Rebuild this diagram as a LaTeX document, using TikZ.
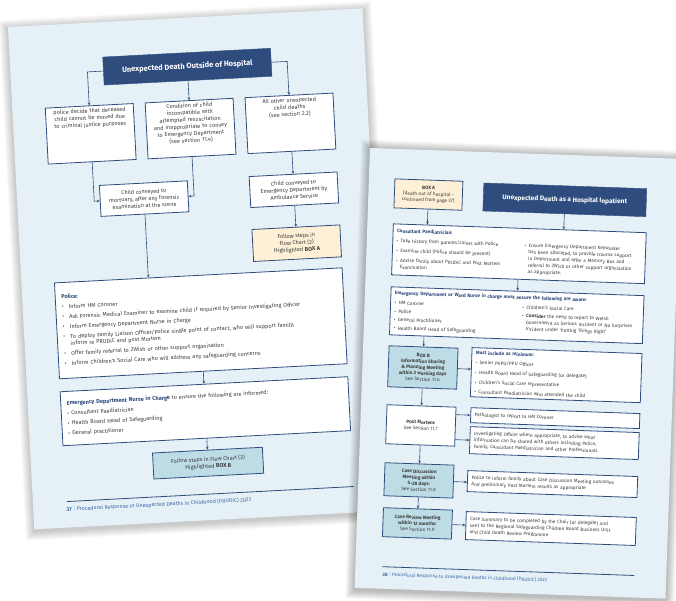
\documentclass[tikz,border=0pt]{standalone}
\usepackage{fontspec}
\setmainfont{Fira Sans}
\usepackage{xcolor}
\usepackage{tikz}
\usetikzlibrary{arrows.meta, positioning, calc}

\definecolor{pagebg}{HTML}{E6F1F7}
\definecolor{navy}{HTML}{2E4C7D}
\definecolor{boxtext}{HTML}{404040}
\definecolor{cream}{HTML}{FDF0D6}
\definecolor{paleteal}{HTML}{BDDCE5}
\definecolor{footblue}{HTML}{3F6AA6}
\definecolor{barblue}{HTML}{6CB4DA}

\newcommand{\bul}[1]{\par\hangindent=7pt\hangafter=1\noindent\makebox[7pt][l]{\textbullet}#1}
\newcommand{\sbul}[1]{\par\hangindent=4pt\hangafter=1\noindent\makebox[4pt][l]{\textbullet}#1}
\newcommand{\heading}[1]{\textcolor{navy}{\textbf{#1}}}

\begin{document}
\begin{tikzpicture}[
    x=1pt, y=1pt,
    page/.style={fill=pagebg},
    titlebox/.style={rectangle, fill=navy, draw=navy, text=white, font=\bfseries\fontsize{7.5}{8.5}\selectfont, inner sep=0pt},
    flowbox/.style={rectangle, draw=navy, line width=0.8pt, fill=white, text=boxtext, align=center, inner sep=3pt, font=\fontsize{5.6}{7}\selectfont},
    topbox/.style={flowbox, text height=4pt, text depth=46pt},
    listbox/.style={rectangle, draw=navy, line width=0.8pt, fill=white, text=boxtext, align=left, inner xsep=6pt, inner ysep=3pt, font=\fontsize{5.6}{6.6}\selectfont, execute at begin node={\setlength{\parskip}{3.4pt}}},
    rbox/.style={flowbox, font=\fontsize{4.8}{6}\selectfont},
    rlist/.style={listbox, inner xsep=4pt, font=\fontsize{4.8}{6.6}\selectfont, execute at begin node={\setlength{\parskip}{3.2pt}}},
    footer/.style={text=footblue, font=\fontsize{5.4}{6}\selectfont, inner sep=0pt},
    link/.style={draw=navy, line width=0.6pt, -{Stealth[length=3pt, width=2.6pt]}}
]
    \useasboundingbox (0,0) rectangle (676,600);
    \fill[white] (0,0) rectangle (676,600);

    % ---- page 37 ----
    \begin{scope}[shift={(8,573)}, rotate=3, y=-1pt, transform shape]
        % sheet and shadow
        \foreach \s in {1,...,9}
            \fill[black, opacity=0.025] (-\s,-\s+2) rectangle (355+\s,503+\s+2);
        \fill[page] (0,0) rectangle (355,503);

        % Title
        \node[titlebox, minimum width=168pt, minimum height=28pt] (outside) at (177,49) {Unexpected Death Outside of Hospital};

        % First row
        \node[topbox, text width=82pt, minimum width=88pt, minimum height=56pt] (cjp) at (77,111) {police decide that deceased\\child cannot be moved due\\to criminal justice purposes};
        \node[topbox, text width=82pt, minimum width=88pt, minimum height=56pt] (incompat) at (177,111) {Condition of child\\incompatible with\\attempted resuscitation\\and inappropriate to convey\\to Emergency Department\\(see section 11.4)};
        \node[topbox, text width=82pt, minimum width=88pt, minimum height=56pt] (otherdeaths) at (277,111) {All other unexpected\\child deaths\\(see section 2.2)};

        % Second row
        \node[flowbox, minimum width=88pt, minimum height=31pt] (mortuary) at (127,178.5) {Child conveyed to\\mortuary, after any forensic\\examination at the scene};
        \node[flowbox, minimum width=88pt, minimum height=31pt] (ambulance) at (277,177.5) {Child conveyed to\\Emergency Department by\\Ambulance Service};
        \node[flowbox, fill=cream, minimum width=88pt, minimum height=32pt] (toboxa) at (277,231) {Follow steps in\\Flow Chart (2)\\Highlighted \textbf{BOX A}};

        % Lists
        \node[listbox, text width=276pt, minimum width=288pt, minimum height=96pt] (police) at (177,306) {%
            \heading{Police:}
            \bul{Inform HM Coroner}
            \bul{Ask Forensic Medical Examiner to examine child if required by Senior Investigating Officer}
            \bul{Inform Emergency Department Nurse in Charge}
            \bul{To deploy Family Liaison Officer/Police single point of contact, who will support family,\newline inform re PRUDiC and post Mortem}
            \bul{Offer family referral to 2Wish or other support organisation}
            \bul{Inform Children’s Social Care who will address any safeguarding concerns}};
        \node[listbox, text width=276pt, minimum width=288pt, minimum height=54pt] (ednurse) at (177,394) {%
            \heading{Emergency Department Nurse in Charge} to ensure the following are informed:
            \sbul{Consultant Paediatrician}
            \sbul{Health Board Head of Safeguarding}
            \sbul{General practitioner}};
        \node[flowbox, fill=paleteal, minimum width=110pt, minimum height=26pt] (toboxb) at (177,446) {Follow steps in Flow Chart (2)\\Highlighted \textbf{BOX B}};

        % Arrows
        \draw[link] (outside.west) -- ($(cjp.north)!(outside.west)!(cjp.south)$) -- (cjp.north);
        \draw[link] (outside.south) -- (incompat.north);
        \draw[link] (outside.east) -- ($(otherdeaths.north)!(outside.east)!(otherdeaths.south)$) -- (otherdeaths.north);
        \draw[link] (cjp.south) -- ($(cjp.south)!(mortuary.west)!(cjp.north)$) -- (mortuary.west);
        \draw[link] (incompat.south) -- ($(incompat.south)!(mortuary.east)!(incompat.north)$) -- (mortuary.east);
        \draw[link] (otherdeaths.south) -- (ambulance.north);
        \draw[link] (ambulance.south) -- (toboxa.north);
        \draw[link] (mortuary.south) -- ($(police.north west)!(mortuary.south)!(police.north east)$);
        \draw[link] (police.south) -- (ednurse.north);
        \draw[link] (ednurse.south) -- (toboxb.north);

        % Footer
        \draw[navy, line width=0.8pt] (34,477) -- (321,477);
        \node[footer, anchor=west] (foot37) at (33,485) {\textbf{37} \textcolor{barblue}{|} Procedural Response to Unexpected Deaths in Childhood (PRUDiC) 2023};
    \end{scope}

    % ---- page 38 ----
    \begin{scope}[shift={(370,452)}, rotate=-2, y=-1pt, transform shape]
        % sheet and shadow
        \foreach \s in {1,...,9}
            \fill[black, opacity=0.03] (-\s,-\s+1) rectangle (311+\s,440+\s+2);
        \fill[page] (0,0) rectangle (311,440);

        % Top row
        \node[rbox, fill=cream, minimum width=68pt, minimum height=29pt] (boxa) at (60,44.5) {\textbf{BOX A}\\(death out of hospital -\\continued from page 37)};
        \node[titlebox, font=\bfseries\fontsize{6.6}{7.5}\selectfont, minimum width=163pt, minimum height=28pt] (inpatient) at (196.5,45) {Unexpected Death as a Hospital Inpatient};

        % Wide boxes
        \node[rlist, text width=245pt, minimum width=253pt, minimum height=51pt] (consultant) at (152.5,100.5) {%
            \heading{Consultant Paediatrician:}\par
            \noindent\begin{minipage}[t]{128pt}\setlength{\parskip}{3.2pt}
                \sbul{Take history from parents/carers with Police}
                \sbul{Examine child (Police should be present)}
                \sbul{Advise family about PRUDiC and Post Mortem\newline Examination}
            \end{minipage}%
            \begin{minipage}[t]{117pt}
                \sbul{Ensure Emergency Department Keyworker\newline has been allocated, to provide trauma support\newline in Department and offer a Memory Box and\newline referral to 2Wish or other support organisation\newline as appropriate.}
            \end{minipage}};
        \node[rlist, text width=245pt, minimum width=253pt, minimum height=48pt] (wardnurse) at (152.5,162) {%
            \heading{Emergency Department or Ward Nurse in charge must ensure the following are aware:}\par
            \noindent\begin{minipage}[t]{128pt}\setlength{\parskip}{1.8pt}
                \sbul{HM Coroner}
                \sbul{Police}
                \sbul{General Practitioner}
                \sbul{Health Board Head of Safeguarding}
            \end{minipage}%
            \begin{minipage}[t]{117pt}\setlength{\parskip}{1.8pt}
                \sbul{Children’s Social Care}
                \sbul{\textbf{Consider} the need to report to Welsh\newline Government as Serious Incident or No Surprises\newline Incident under ‘Putting Things Right’}
            \end{minipage}};

        % Left column
        \node[rbox, fill=paleteal, minimum width=69pt, minimum height=41pt] (boxb) at (60.5,217.5) {\textbf{BOX B}\\\textbf{Information Sharing}\\\textbf{\& Planning Meeting}\\\textbf{within 2 working days}\\See Section 11.6};
        \node[rbox, minimum width=69pt, minimum height=39pt] (postmortem) at (60.5,275.5) {\textbf{Post Mortem:}\\See Section 11.7};
        \node[rbox, fill=paleteal, minimum width=69pt, minimum height=33pt] (casediscussion) at (60.5,330.5) {\textbf{Case Discussion}\\\textbf{Meeting within}\\\textbf{5-28 days:}\\See Section 11.8};
        \node[rbox, fill=paleteal, minimum width=69pt, minimum height=29pt] (casereview) at (60.5,373.5) {\textbf{Case Review Meeting}\\\textbf{within 12 months:}\\See Section 11.9};

        % Right column
        \node[rlist, text width=162pt, minimum width=170pt, minimum height=49pt] (minimum) at (194,220.5) {%
            \heading{Must include as minimum:}
            \sbul{Senior PVPU/PPU Officer}
            \sbul{Health Board Head of Safeguarding (or delegate)}
            \sbul{Children’s Social Care representative}
            \sbul{Consultant Paediatrician who attended the child}};
        \node[rlist, text width=161pt, minimum width=169pt, minimum height=15pt] (pathologist) at (194.5,263.5) {Pathologist to report to HM Coroner};
        \node[rlist, text width=161pt, minimum width=169pt, minimum height=27pt] (investigating) at (194.5,288.5) {Investigating Officer where appropriate, to advise what\newline information can be shared with others including Police,\newline Family, Consultant Paediatrician and other Professionals};
        \node[rlist, text width=162pt, minimum width=170pt, minimum height=21pt] (informfamily) at (194,329.5) {Police to inform family about Case Discussion Meeting outcomes\newline And preliminary Post Mortem results as appropriate};
        \node[rlist, text width=162pt, minimum width=170pt, minimum height=28pt] (casesummary) at (194,374) {Case Summary to be completed by the Chair (or delegate) and\newline sent to the Regional Safeguarding Children Board Business Unit\newline and Child Death Review Programme};

        % Arrows
        \draw[link] (boxa.south) -- ($(consultant.north west)!(boxa.south)!(consultant.north east)$);
        \draw[link] (inpatient.south) -- ($(consultant.north west)!(inpatient.south)!(consultant.north east)$);
        \draw[link] (consultant.south) -- (wardnurse.north);
        \draw[link] ($(wardnurse.south west)!(boxb.north)!(wardnurse.south east)$) -- (boxb.north);
        \draw[link] (boxb.east) -- ($(minimum.north west)!(boxb.east)!(minimum.south west)$);
        \draw[link] (boxb.south) -- (postmortem.north);
        \draw[link] ($(postmortem.north east)!(pathologist.west)!(postmortem.south east)$) -- (pathologist.west);
        \draw[link] ($(postmortem.north east)!(investigating.west)!(postmortem.south east)$) -- (investigating.west);
        \draw[link] (postmortem.south) -- (casediscussion.north);
        \draw[link] (casediscussion.east) -- ($(informfamily.north west)!(casediscussion.east)!(informfamily.south west)$);
        \draw[link] (casediscussion.south) -- (casereview.north);
        \draw[link] (casereview.east) -- ($(casesummary.north west)!(casereview.east)!(casesummary.south west)$);

        % Footer
        \draw[navy, line width=0.8pt] (27,418) -- (279,418);
        \node[footer, font=\fontsize{4.8}{5.5}\selectfont, anchor=west] (foot38) at (27,426) {\textbf{38} \textcolor{barblue}{|} Procedural Response to Unexpected Deaths in Childhood (PRUDiC) 2023};
    \end{scope}
\end{tikzpicture}
\end{document}
